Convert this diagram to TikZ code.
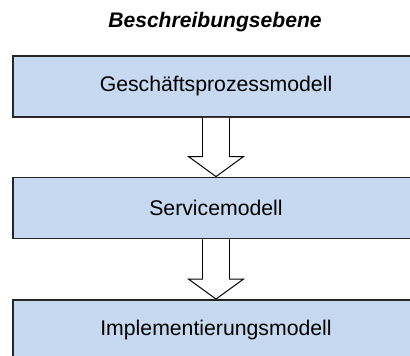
\documentclass[tikz,border=0pt]{standalone}
\usepackage{fontspec}
\setmainfont{Liberation Sans}
\usetikzlibrary{calc}

\definecolor{boxblue}{HTML}{C6D9F0}
\definecolor{boxline}{HTML}{262626}

\tikzset{
  modelbox/.style={draw=boxline,line width=1.3pt,fill=boxblue,
    minimum width=10.15cm,minimum height=1.525cm,inner sep=0pt,
    font=\fontsize{15.1}{18}\selectfont},
  blockarrow/.style={draw=black,line width=0.7pt,fill=white,line join=miter},
}

\begin{document}
\begin{tikzpicture}[x=0.025cm,y=-0.025cm]
  \useasboundingbox (0,0) rectangle (410,356);

  \node (title) at (215,22) {\fontsize{15}{18}\selectfont\bfseries\itshape Beschreibungsebene};

  \node[modelbox] (gpm) at (216,86.5) {Geschäftsprozessmodell};
  \node[modelbox] (sm)  at (216,208)  {Servicemodell};
  \node[modelbox] (im)  at (216,330.5) {Implementierungsmodell};

  % Pfeile zwischen den Ebenen
  \foreach \a/\b in {gpm/sm, sm/im}
    \draw[blockarrow] ($(\a.south)+(-13.5,0)$) -- ($(\b.north)+(-13.5,-20)$)
      -- ($(\b.north)+(-27.5,-20)$) -- (\b.north) -- ($(\b.north)+(27.5,-20)$)
      -- ($(\b.north)+(13.5,-20)$) -- ($(\a.south)+(13.5,0)$);
\end{tikzpicture}
\end{document}
